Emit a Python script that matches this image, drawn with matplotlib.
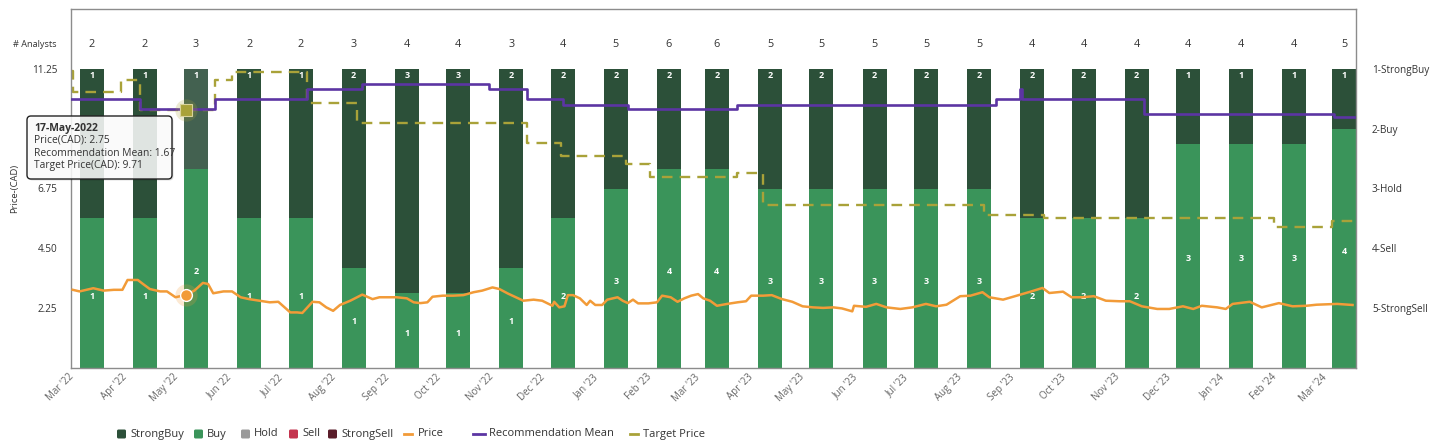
import matplotlib
matplotlib.use("Agg")
import matplotlib.pyplot as plt
import matplotlib.dates as mdates
import matplotlib.transforms as mtransforms
from matplotlib.patches import FancyBboxPatch
from matplotlib.lines import Line2D
import numpy as np
import pandas as pd

plt.rcParams['font.family'] = ['Open Sans', 'DejaVu Sans']

# ---------------- data ----------------
months = ["2022-03", "2022-04", "2022-05", "2022-06", "2022-07", "2022-08", "2022-09",
          "2022-10", "2022-11", "2022-12", "2023-01", "2023-02", "2023-03", "2023-04",
          "2023-05", "2023-06", "2023-07", "2023-08", "2023-09", "2023-10", "2023-11",
          "2023-12", "2024-01", "2024-02", "2024-03"]
strong_buy = [1, 1, 1, 1, 1, 2, 3, 3, 2, 2, 2, 2, 2, 2, 2, 2, 2, 2, 2, 2, 2, 1, 1, 1, 1]
buy = [1, 1, 2, 1, 1, 1, 1, 1, 1, 2, 3, 4, 4, 3, 3, 3, 3, 3, 2, 2, 2, 3, 3, 3, 4]
hold = [0] * 25
sell = [0] * 25
strong_sell = [0] * 25

price_dates = [
    "2022-03-01", "2022-03-05", "2022-03-13", "2022-03-19", "2022-03-25", "2022-03-30",
    "2022-04-02", "2022-04-08", "2022-04-11", "2022-04-15", "2022-04-21", "2022-04-25",
    "2022-04-30", "2022-05-06", "2022-05-11", "2022-05-16", "2022-05-19", "2022-05-22",
    "2022-05-28", "2022-06-02", "2022-06-07", "2022-06-12", "2022-06-18", "2022-06-24",
    "2022-06-29", "2022-07-02", "2022-07-06", "2022-07-10", "2022-07-13", "2022-07-16",
    "2022-07-19", "2022-07-23", "2022-07-27", "2022-07-31", "2022-08-04", "2022-08-10",
    "2022-08-14", "2022-08-17", "2022-08-23", "2022-08-27", "2022-09-02", "2022-09-06",
    "2022-09-12", "2022-09-16", "2022-09-20", "2022-09-24", "2022-09-27", "2022-10-03",
    "2022-10-09", "2022-10-15", "2022-10-21", "2022-10-26", "2022-11-01", "2022-11-05",
    "2022-11-10", "2022-11-19", "2022-11-25", "2022-11-30", "2022-12-06", "2022-12-07",
    "2022-12-10", "2022-12-13", "2022-12-15", "2022-12-18", "2022-12-22", "2022-12-26",
    "2022-12-28", "2022-12-31", "2023-01-04", "2023-01-07", "2023-01-13", "2023-01-16",
    "2023-01-19", "2023-01-22", "2023-01-25", "2023-01-31", "2023-02-05", "2023-02-08",
    "2023-02-13", "2023-02-17", "2023-02-21", "2023-02-25", "2023-03-01", "2023-03-04",
    "2023-03-08", "2023-03-12", "2023-03-18", "2023-03-24", "2023-03-29", "2023-04-01",
    "2023-04-08", "2023-04-13", "2023-04-19", "2023-04-25", "2023-05-01", "2023-05-07",
    "2023-05-13", "2023-05-19", "2023-05-24", "2023-05-30", "2023-05-31", "2023-06-07",
    "2023-06-13", "2023-06-19", "2023-06-27", "2023-07-04", "2023-07-12", "2023-07-18",
    "2023-07-24", "2023-08-01", "2023-08-07", "2023-08-14", "2023-08-18", "2023-08-26",
    "2023-09-03", "2023-09-11", "2023-09-18", "2023-09-22", "2023-09-30", "2023-10-05",
    "2023-10-11", "2023-10-18", "2023-10-25", "2023-11-02", "2023-11-08", "2023-11-15",
    "2023-11-24", "2023-12-01", "2023-12-09", "2023-12-15", "2023-12-20", "2023-12-29",
    "2024-01-03", "2024-01-07", "2024-01-17", "2024-01-24", "2024-02-03", "2024-02-11",
    "2024-02-19", "2024-02-25", "2024-03-08", "2024-03-17"]
price_values = [
    2.94, 2.88, 3.00, 2.91, 2.94, 2.94,
    3.31, 3.31, 3.16, 2.97, 2.88, 2.88,
    2.66, 2.75, 2.91, 3.20, 3.16, 2.81,
    2.88, 2.88, 2.66, 2.59, 2.53, 2.47,
    2.49, 2.32, 2.09, 2.09, 2.07, 2.28,
    2.49, 2.47, 2.28, 2.15, 2.37, 2.53,
    2.66, 2.76, 2.59, 2.66, 2.66, 2.66,
    2.62, 2.47, 2.44, 2.47, 2.68, 2.72,
    2.72, 2.74, 2.85, 2.91, 3.03, 2.97,
    2.80, 2.53, 2.57, 2.53, 2.34, 2.49,
    2.28, 2.32, 2.74, 2.74, 2.62, 2.37,
    2.53, 2.37, 2.37, 2.57, 2.66, 2.53,
    2.44, 2.57, 2.43, 2.43, 2.47, 2.72,
    2.66, 2.49, 2.62, 2.72, 2.78, 2.62,
    2.53, 2.34, 2.41, 2.47, 2.51, 2.72,
    2.72, 2.74, 2.59, 2.49, 2.32, 2.28,
    2.26, 2.28, 2.24, 2.13, 2.34, 2.30,
    2.41, 2.28, 2.22, 2.28, 2.41, 2.32,
    2.38, 2.70, 2.72, 2.85, 2.66, 2.57,
    2.72, 2.87, 3.01, 2.82, 2.87, 2.66,
    2.66, 2.70, 2.53, 2.51, 2.51, 2.32,
    2.22, 2.22, 2.32, 2.22, 2.34, 2.28,
    2.22, 2.41, 2.49, 2.28, 2.44, 2.32,
    2.34, 2.38, 2.41, 2.37]

rec_dates = ["2022-02-28", "2022-04-09", "2022-05-23", "2022-07-16", "2022-08-17",
             "2022-10-30", "2022-11-21", "2022-12-12", "2023-01-19", "2023-03-24",
             "2023-08-22", "2023-09-05", "2023-09-06", "2023-11-16", "2024-03-06",
             "2024-03-19"]
rec_values = [1.50, 1.67, 1.50, 1.33, 1.25, 1.33, 1.50, 1.60, 1.67, 1.60,
              1.50, 1.33, 1.50, 1.75, 1.80, 1.80]

target_dates = ["2022-02-28", "2022-03-01", "2022-03-29", "2022-04-09", "2022-05-23",
                "2022-06-02", "2022-07-16", "2022-08-14", "2022-11-21", "2022-12-11",
                "2023-01-18", "2023-02-01", "2023-03-24", "2023-04-08", "2023-08-15",
                "2023-09-19", "2024-01-31", "2024-03-05", "2024-03-19"]
target_values = [11.17, 10.38, 10.83, 9.71, 10.83, 11.13, 9.96, 9.21, 8.46, 7.97,
                 7.67, 7.18, 7.33, 6.13, 5.75, 5.64, 5.30, 5.53, 5.53]

rating_labels = ["1-StrongBuy", "2-Buy", "3-Hold", "4-Sell", "5-StrongSell"]
price_ticks = [2.25, 4.50, 6.75, 11.25]

hover_date = "2022-05-06"
hover_label = "17-May-2022"
hover_month = "2022-05"

# ---------------- styles ----------------
c_sb, c_buy, c_hold, c_sell, c_ssell = "#2c5039", "#3a945a", "#9a9a9a", "#c4344e", "#5a1d2a"
c_sb_hover = "#436150"
c_price, c_rec, c_target = "#f29b38", "#5c35a3", "#a9a239"
txt = "#333333"

W, H = 1434, 446
fig = plt.figure(figsize=(W / 100, H / 100), dpi=100)
ax = fig.add_axes([71 / W, 78 / H, 1285 / W, 359 / H])
axb = ax.twinx()
axr = ax.twinx()
axb.set_zorder(0)
ax.set_zorder(1)
axr.set_zorder(2)
ax.patch.set_visible(False)

bar_dates = pd.to_datetime(months) + pd.Timedelta(days=11)
sb = np.array(strong_buy, float)
by = np.array(buy, float)
total = sb + by + np.array(hold) + np.array(sell) + np.array(strong_sell)
sb_pct = sb / total * 100
buy_pct = by / total * 100

hb = months.index(hover_month)
sb_cols = [c_sb_hover if i == hb else c_sb for i in range(len(months))]
axb.bar(bar_dates, buy_pct, width=14, color=c_buy, linewidth=0)
axb.bar(bar_dates, sb_pct, bottom=buy_pct, width=14, color=sb_cols, linewidth=0)
axb.set_ylim(0, 120)
axb.yaxis.set_visible(False)
for s in axb.spines.values():
    s.set_visible(False)

for d, s_, b_, bp, n in zip(bar_dates, strong_buy, buy, buy_pct, total):
    axb.text(d, 97.7, str(s_), ha='center', va='center', color='white',
             fontsize=6.5, fontweight='bold')
    axb.text(d, bp / 2 - 1, str(b_), ha='center', va='center', color='white',
             fontsize=6.5, fontweight='bold')
    axb.text(d, 108, str(int(n)), ha='center', va='center', color=txt, fontsize=7.8)
trans_b = mtransforms.blended_transform_factory(axb.transAxes, axb.transData)
axb.text(-0.0109, 108, "# Analysts", transform=trans_b, ha='right', va='center',
         color=txt, fontsize=6.6)

# price & target on the price axis
pdts = pd.to_datetime(price_dates)
ax.plot(pd.to_datetime(target_dates), target_values, drawstyle='steps-post',
        color=c_target, lw=1.7, linestyle=(0, (4.5, 3)), zorder=2)
ax.plot(pdts, price_values, color=c_price, lw=1.8, zorder=3)
ax.set_ylim(0, 13.5)
ax.set_yticks(price_ticks)
ax.set_yticklabels([f"{v:.2f}" for v in price_ticks])
ax.tick_params(axis='y', length=0, pad=10, labelsize=7.2, colors=txt)
ax.set_ylabel("Price-(CAD)", fontsize=6.8, color=txt)
ax.yaxis.set_label_coords(-0.0401, 0.5)

ax.set_xlim(pd.Timestamp("2022-02-28"), pd.Timestamp("2024-03-19"))
ticks = pd.date_range("2022-03-01", "2024-03-01", freq="MS")
ax.set_xticks(ticks)
ax.xaxis.set_major_formatter(mdates.DateFormatter("%b '%y"))
ax.tick_params(axis='x', length=0, pad=5.5, labelsize=7, colors="#666666")
for lab in ax.get_xticklabels():
    lab.set_rotation(45)
    lab.set_ha('right')
    lab.set_va('center')
    lab.set_rotation_mode('anchor')
for s in ax.spines.values():
    s.set_color("#8c8c8c")
    s.set_linewidth(1)

# recommendation mean on the rating axis
axr.plot(pd.to_datetime(rec_dates), rec_values, drawstyle='steps-post',
         color=c_rec, lw=1.9, zorder=3)
axr.set_ylim(6, 0)
axr.set_yticks([1, 2, 3, 4, 5])
axr.set_yticklabels(rating_labels)
axr.tick_params(axis='y', length=0, pad=11.5, labelsize=7.2, colors=txt)
for s in axr.spines.values():
    s.set_visible(False)

# hover markers (drawn on top axes with price-axis coordinates)
hd = pd.Timestamp(hover_date)
hp = price_values[price_dates.index(hover_date)]
ti = np.searchsorted(pd.to_datetime(target_dates).values, hd.to_datetime64(), side='right') - 1
ri = np.searchsorted(pd.to_datetime(rec_dates).values, hd.to_datetime64(), side='right') - 1
ht = target_values[ti]
hr = rec_values[ri]
axr.plot([hd], [hp], 'o', ms=16, color=c_price, alpha=0.22, mec='none',
         transform=ax.transData, zorder=5)
axr.plot([hd], [hp], 'o', ms=8.5, color=c_price, mec='white', mew=1,
         transform=ax.transData, zorder=6)
axr.plot([hd], [ht], 'o', ms=16, color=c_target, alpha=0.22, mec='none',
         transform=ax.transData, zorder=5)
axr.plot([hd], [ht], 's', ms=8.5, color=c_target, mec='#d8d29a', mew=0.8,
         transform=ax.transData, zorder=6)
axr.set_ylim(6, 0)

# tooltip (pixel layout)
ident = mtransforms.IdentityTransform()
bx0, by0, bw, bh = 27, H - 179, 145, 63
fig.add_artist(FancyBboxPatch((bx0 + 1.5, by0 - 1.5), bw, bh,
                              boxstyle="round,pad=0,rounding_size=4",
                              transform=ident, facecolor='black', alpha=0.12,
                              edgecolor='none', zorder=9))
fig.add_artist(FancyBboxPatch((bx0, by0), bw, bh,
                              boxstyle="round,pad=0,rounding_size=4",
                              transform=ident, facecolor='white', alpha=0.86,
                              edgecolor='none', zorder=10))
fig.add_artist(FancyBboxPatch((bx0, by0), bw, bh,
                              boxstyle="round,pad=0,rounding_size=4",
                              transform=ident, facecolor='none',
                              edgecolor='#222222', lw=1, zorder=11))
tip_lines = [(hover_label, 'bold'),
             (f"Price(CAD): {hp:.2f}", 'normal'),
             (f"Recommendation Mean: {hr:.2f}", 'normal'),
             (f"Target Price(CAD): {ht:.2f}", 'normal')]
for i, (t, w) in enumerate(tip_lines):
    fig.text(34, H - (128 + 12.5 * i), t, transform=ident, ha='left', va='center',
             fontsize=7.5 if w == 'bold' else 7.4, fontweight=w, color=txt, zorder=12)

# legend (pixel layout)
ly = H - 434
leg = [("StrongBuy", 'sq', c_sb, 117, 130),
       ("Buy", 'sq', c_buy, 194, 207),
       ("Hold", 'sq', c_hold, 241, 254),
       ("Sell", 'sq', c_sell, 289, 302),
       ("StrongSell", 'sq', c_ssell, 328, 341),
       ("Price", 'ln', c_price, 404, 418),
       ("Recommendation Mean", 'ln', c_rec, 473, 489),
       ("Target Price", 'ln', c_target, 630, 643)]
for label, kind, col, x0, xt in leg:
    if kind == 'sq':
        fig.add_artist(FancyBboxPatch((x0, ly - 4.5), 9, 9,
                                      boxstyle="round,pad=0,rounding_size=1.5",
                                      transform=ident, facecolor=col, edgecolor='none'))
    else:
        ln = 12 if label == "Recommendation Mean" else 8
        fig.add_artist(Line2D([x0, x0 + ln], [ly, ly], transform=ident, color=col, lw=2))
    fig.text(xt, ly, label, transform=ident, ha='left', va='center',
             fontsize=8, color=txt)

fig.savefig("out.png", dpi=100)
